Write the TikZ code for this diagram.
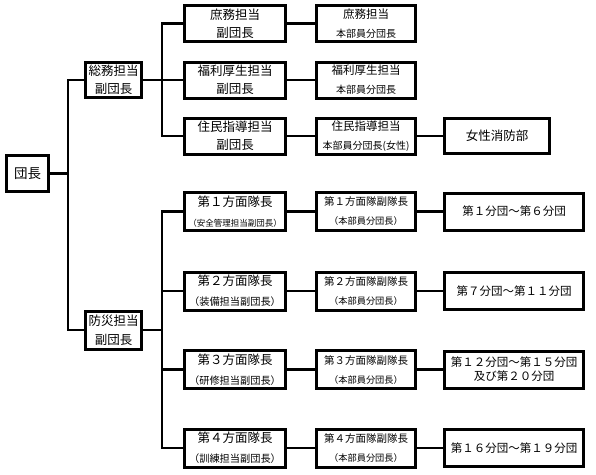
\documentclass[tikz,border=0pt]{standalone}
\usepackage{fontspec}
\setmainfont{Noto Sans CJK JP}
\begin{document}
\begin{tikzpicture}[x=1pt,y=-1pt,
  box/.style={draw,line width=3pt,inner sep=0pt,align=center},
  conn/.style={line width=2.8pt,line join=miter},
  c2u/.style={box,minimum width=101,minimum height=36,font=\fontsize{12.5}{18}\selectfont},
  c2l/.style={box,minimum width=101,minimum height=38,font=\fontsize{12.5}{20}\selectfont},
  c3u/.style={box,minimum width=99,minimum height=36,font=\fontsize{11.5}{19}\selectfont},
  c3l/.style={box,minimum width=99,minimum height=38,font=\fontsize{10.5}{19}\selectfont},
  c4/.style={box,minimum width=139,minimum height=37,font=\fontsize{11.5}{14}\selectfont}]
\useasboundingbox (0,0) rectangle (596,474);
% level 0
\node[box,minimum width=42,minimum height=36,font=\fontsize{13.5}{16}\selectfont] (dan) at (27.5,173.5) {団長};
% level 1
\node[box,minimum width=56,minimum height=35,font=\fontsize{12.5}{18}\selectfont] (somu) at (113.5,80) {総務担当\\副団長};
\node[box,minimum width=56,minimum height=38,font=\fontsize{12.5}{19}\selectfont] (bosai) at (113.5,330) {防災担当\\副団長};
% level 2 upper
\node[c2u] (shomu) at (235,23.5) {庶務担当\\副団長};
\node[c2u] (fukuri) at (235,80) {福利厚生担当\\副団長};
\node[c2u] (jumin) at (235,136) {住民指導担当\\副団長};
% level 2 lower
\node[c2l] (h1) at (235,211.5) {第１方面隊長\\{\fontsize{8.5}{10}\selectfont （安全管理担当副団長）}};
\node[c2l] (h2) at (235,291) {第２方面隊長\\{\fontsize{10.2}{12}\selectfont （装備担当副団長）}};
\node[c2l] (h3) at (235,369.5) {第３方面隊長\\{\fontsize{10.2}{12}\selectfont （研修担当副団長）}};
\node[c2l] (h4) at (235,448) {第４方面隊長\\{\fontsize{10.2}{12}\selectfont （訓練担当副団長）}};
% level 3 upper
\node[c3u] (shomu3) at (366,23.5) {庶務担当\\{\fontsize{10}{12}\selectfont 本部員分団長}};
\node[c3u] (fukuri3) at (366,80) {福利厚生担当\\{\fontsize{10}{12}\selectfont 本部員分団長}};
\node[c3u] (jumin3) at (366,136) {住民指導担当\\{\fontsize{10}{12}\selectfont 本部員分団長(女性)}};
% level 3 lower
\node[c3l] (f1) at (366,211.5) {第１方面隊副隊長\\{\fontsize{9.2}{11}\selectfont （本部員分団長）}};
\node[c3l] (f2) at (366,291) {第２方面隊副隊長\\{\fontsize{9.2}{11}\selectfont （本部員分団長）}};
\node[c3l] (f3) at (366,369.5) {第３方面隊副隊長\\{\fontsize{9.2}{11}\selectfont （本部員分団長）}};
\node[c3l] (f4) at (366,448) {第４方面隊副隊長\\{\fontsize{9.2}{11}\selectfont （本部員分団長）}};
% level 4
\node[box,minimum width=105,minimum height=35,font=\fontsize{12.5}{15}\selectfont] (josei) at (497,136) {女性消防部};
\node[c4] (b1) at (514,211.5) {第１分団～第６分団};
\node[c4] (b2) at (514,291) {第７分団～第１１分団};
\node[c4] (b3) at (514,369.5) {第１２分団～第１５分団\\及び第２０分団};
\node[c4] (b4) at (514,448) {第１６分団～第１９分団};
% trunks
\coordinate (t1) at (68,173.5);
\coordinate (t2) at (162,80);
\coordinate (t3) at (162,330);
% connectors
\draw[conn] (dan.east) -- (t1);
\draw[conn] (somu.west) -| (t1) |- (bosai.west);
\draw[conn] (somu.east) -- (fukuri.west);
\draw[conn] (shomu.west) -| (t2) |- (jumin.west);
\draw[conn] (bosai.east) -- (t3);
\draw[conn] (h1.west) -| (t3) |- (h4.west);
\draw[conn] (h2.west) -- (h2.west -| t3);
\draw[conn] (h3.west) -- (h3.west -| t3);
\draw[conn] (shomu.east) -- (shomu3.west);
\draw[conn] (fukuri.east) -- (fukuri3.west);
\draw[conn] (jumin.east) -- (jumin3.west);
\draw[conn] (h1.east) -- (f1.west);
\draw[conn] (h2.east) -- (f2.west);
\draw[conn] (h3.east) -- (f3.west);
\draw[conn] (h4.east) -- (f4.west);
\draw[conn] (jumin3.east) -- (josei.west);
\draw[conn] (f1.east) -- (b1.west);
\draw[conn] (f2.east) -- (b2.west);
\draw[conn] (f3.east) -- (b3.west);
\draw[conn] (f4.east) -- (b4.west);
\end{tikzpicture}
\end{document}
